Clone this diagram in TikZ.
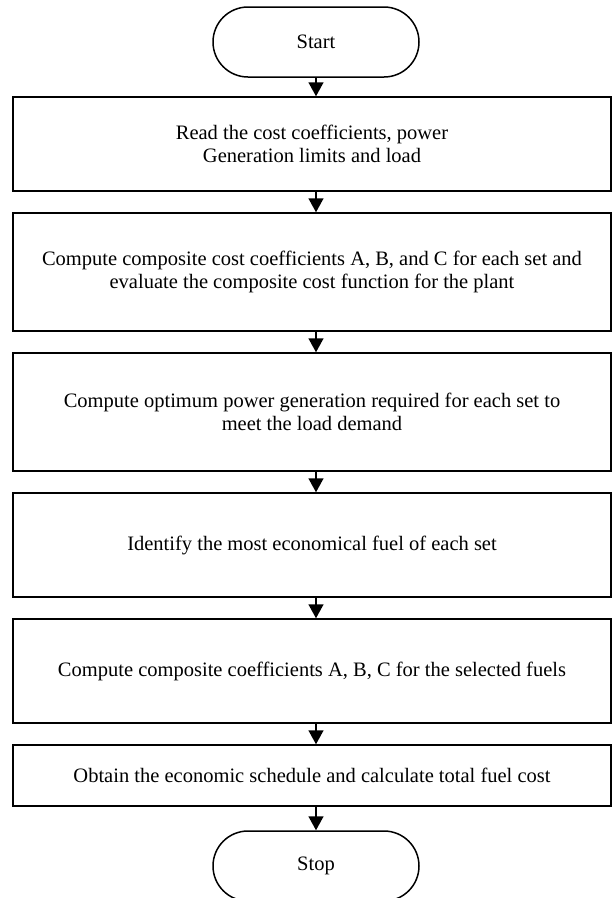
\documentclass[tikz,border=0pt]{standalone}
\usepackage{fontspec}
\setmainfont{Liberation Serif}
\usetikzlibrary{arrows.meta}
\begin{document}
\begin{tikzpicture}[x=1pt,y=-1pt,
  every node/.style={font=\fontsize{20.5}{22.5}\selectfont, align=center, inner sep=0pt},
  box/.style={draw, line width=1.5pt, minimum width=598pt},
  term/.style={draw, line width=1.5pt, minimum width=206pt, minimum height=70pt, rounded corners=35pt},
  arr/.style={line width=1.5pt, -{Triangle[length=14pt,width=15pt]}}]
\clip (0,0) rectangle (612,898);
\node[term] (start) at (316,42) {Start};
\node[box, minimum height=94pt] (b1) at (312,144) {Read the cost coefficients, power\\Generation limits and load};
\node[box, minimum height=118pt] (b2) at (312,272) {Compute composite cost coefficients A, B, and C for each set and\\evaluate the composite cost function for the plant};
\node[box, minimum height=118pt] (b3) at (312,412) {Compute optimum power generation required for each set to\\meet the load demand};
\node[box, minimum height=104pt] (b4) at (312,545) {Identify the most economical fuel of each set};
\node[box, minimum height=104pt] (b5) at (312,671) {Compute composite coefficients A, B, C for the selected fuels};
\node[box, minimum height=61pt] (b6) at (312,775.5) {Obtain the economic schedule and calculate total fuel cost};
\node[term] (stop) at (316,866) {Stop};
\draw[arr] (start) -- (start |- b1.north);
\draw[arr] (b1.south -| start) -- (start |- b2.north);
\draw[arr] (b2.south -| start) -- (start |- b3.north);
\draw[arr] (b3.south -| start) -- (start |- b4.north);
\draw[arr] (b4.south -| start) -- (start |- b5.north);
\draw[arr] (b5.south -| start) -- (start |- b6.north);
\draw[arr] (b6.south -| start) -- (stop);
\end{tikzpicture}
\end{document}
